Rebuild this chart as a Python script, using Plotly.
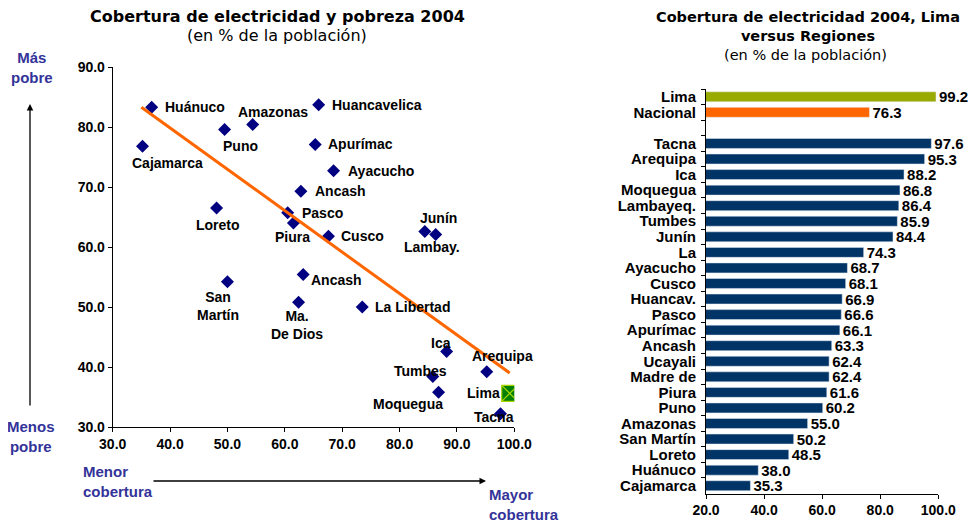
import plotly.graph_objects as go

# ---- left chart: coverage (x) vs poverty (y), 2004 ----
regions = ["Huánuco", "Cajamarca", "Puno", "Amazonas", "Huancavelica", "Apurímac",
           "Ayacucho", "Ancash", "Loreto", "Pasco", "Piura", "Cusco", "Junín",
           "Lambay.", "Ancash", "San<br>Martín", "Ma.<br>De Dios", "La Libertad",
           "Ica", "Arequipa", "Tumbes", "Moquegua", "Tacna"]
coverage = [36.8, 35.2, 49.5, 54.4, 65.9, 65.3, 68.5, 62.8, 48.1, 60.5, 61.5, 67.6,
            84.4, 86.3, 63.2, 50.0, 62.4, 73.5, 88.2, 95.2, 85.8, 86.8, 97.6]
poverty = [83.3, 76.8, 79.6, 80.4, 83.7, 77.1, 72.7, 69.3, 66.5, 65.7, 64.0, 61.8,
           62.6, 62.1, 55.4, 54.2, 50.8, 50.0, 42.6, 39.2, 38.4, 35.8, 32.2]
lima_coverage = [99.2]
lima_poverty = [35.6]
trend_x = [35.0, 99.2]
trend_y = [83.3, 39.0]

# label placement (anchor, x shift px, y shift px; positive y = up)
label_pos = [("left", 11, 0), ("center", 25, -17), ("center", 16, -17), ("center", 20, 13),
             ("left", 11, 0), ("left", 11, 0), ("left", 12, 0), ("left", 12, 0),
             ("center", 1, -17), ("left", 12, 0), ("center", -1, -14), ("left", 11, 0),
             ("center", 14, 13), ("center", -4, -13), ("left", 6, -5), ("center", -9, -24),
             ("center", -2, -23), ("left", 11, 0), ("center", -6, 8), ("center", 16, 16),
             ("center", -12, 6), ("center", -31, -12), ("center", -7, -3)]

# ---- right chart: coverage by region ----
bar_labels = ["Lima", "Nacional", " ", "Tacna", "Arequipa", "Ica", "Moquegua", "Lambayeq.",
              "Tumbes", "Junín", "La", "Ayacucho", "Cusco", "Huancav.", "Pasco", "Apurímac",
              "Ancash", "Ucayali", "Madre de", "Piura", "Puno", "Amazonas", "San Martín",
              "Loreto", "Huánuco", "Cajamarca"]
bar_values = [99.2, 76.3, None, 97.6, 95.3, 88.2, 86.8, 86.4, 85.9, 84.4, 74.3, 68.7, 68.1,
              66.9, 66.6, 66.1, 63.3, 62.4, 62.4, 61.6, 60.2, 55.0, 50.2, 48.5, 38.0, 35.3]
bar_colors = ["#99aa00", "#ff6600", "#003366"] + ["#003366"] * 23

# the page body has an 8px margin, so the figure starts at (8, 8) on screen
OFF = 8
W, H = 980 - OFF, 523 - OFF
def px(x):
    return (x - OFF) / W
def py(y):
    return 1 - (y - OFF) / H

LBL = "Arial, Liberation Sans, sans-serif"
TTL = "Verdana, DejaVu Sans, sans-serif"
BLUE = "#333399"

fig = go.Figure()

fig.add_trace(go.Scatter(
    x=coverage, y=poverty, mode="markers", xaxis="x", yaxis="y",
    marker=dict(symbol="diamond", size=10, color="#000080"),
    hoverinfo="skip"))
fig.add_trace(go.Scatter(
    x=lima_coverage, y=lima_poverty, mode="markers", xaxis="x", yaxis="y",
    marker=dict(symbol="square-x", size=16, color="#008000",
                line=dict(color="#a8d400", width=1.2)),
    hoverinfo="skip"))
fig.add_trace(go.Scatter(
    x=trend_x, y=trend_y, mode="lines", xaxis="x", yaxis="y",
    line=dict(color="#ff6600", width=3), hoverinfo="skip"))

fig.add_trace(go.Bar(
    y=bar_labels, x=bar_values, orientation="h", xaxis="x2", yaxis="y2",
    marker=dict(color=bar_colors), width=0.64,
    text=[("%.1f" % v) if v is not None else "" for v in bar_values],
    textposition="outside", cliponaxis=False, constraintext="none",
    textfont=dict(family=LBL, size=15, color="black", weight="bold"),
    hoverinfo="skip"))

annotations = []
for name, xv, yv, (anc, dx, dy) in zip(regions, coverage, poverty, label_pos):
    annotations.append(dict(
        x=xv, y=yv, xref="x", yref="y", text=name, showarrow=False,
        xanchor=anc, yanchor="middle", xshift=dx, yshift=dy,
        font=dict(family=LBL, size=14, color="black", weight="bold")))
annotations.append(dict(
    x=lima_coverage[0], y=lima_poverty[0], xref="x", yref="y", text="Lima",
    showarrow=False, xanchor="right", yanchor="middle", xshift=-8,
    font=dict(family=LBL, size=14, color="black", weight="bold")))

# titles
def title(text, x, y, size=16, bold=True, yanchor="middle"):
    f = dict(family=TTL, size=size, color="black")
    if bold:
        f["weight"] = "bold"
    return dict(x=px(x), y=py(y), xref="paper", yref="paper", showarrow=False,
                xanchor="center", yanchor=yanchor, borderpad=0, text=text, font=f)

annotations += [
    title("Cobertura de electricidad y pobreza 2004", 277, 16),
    title("(en % de la población)", 277, 35, bold=False),
    title("Cobertura de electricidad 2004, Lima<br>versus Regiones", 808, OFF, size=14.5,
          yanchor="top"),
    title("(en % de la población)", 805, 55, size=14.5, bold=False),
]

# blue axis hints and arrows
hint = dict(family=LBL, size=15, color=BLUE, weight="bold")
annotations += [
    dict(x=px(32), y=py(68), xref="paper", yref="paper", showarrow=False,
         xanchor="center", yanchor="middle", text="Más<br>pobre", font=hint),
    dict(x=px(31), y=py(436), xref="paper", yref="paper", showarrow=False,
         xanchor="center", yanchor="middle", text="Menos<br>pobre", font=hint),
    dict(x=px(81), y=py(481), xref="paper", yref="paper", showarrow=False,
         text="Menor<br>cobertura", align="left", xanchor="left", yanchor="middle", font=hint),
    dict(x=px(487), y=py(504), xref="paper", yref="paper", showarrow=False,
         text="Mayor<br>cobertura", align="left", xanchor="left", yanchor="middle", font=hint),
    dict(x=px(30), y=py(104), xref="paper", yref="paper", text="", showarrow=True,
         ax=0, ay=303, arrowhead=2, arrowsize=1, arrowwidth=1.3, arrowcolor="black"),
    dict(x=px(486), y=py(481), xref="paper", yref="paper", text="", showarrow=True,
         ax=-334, ay=0, arrowhead=2, arrowsize=1, arrowwidth=1.3, arrowcolor="black"),
]

tickfont = dict(family=LBL, size=14, color="black", weight="bold")
fig.update_layout(
    width=W, height=H, margin=dict(l=0, r=0, t=0, b=0, pad=0),
    paper_bgcolor="white", plot_bgcolor="white", showlegend=False,
    annotations=annotations,
    xaxis=dict(domain=[px(112.7), px(514.3)], range=[30, 100], dtick=10, tickformat=".1f",
               showgrid=False, zeroline=False, showline=True, linecolor="black", linewidth=1,
               ticks="outside", ticklen=4, tickcolor="black", tickfont=tickfont,
               anchor="y", automargin=False),
    yaxis=dict(domain=[py(427), py(67)], range=[30, 90], dtick=10, tickformat=".1f",
               showgrid=False, zeroline=False, showline=True, linecolor="black", linewidth=1,
               ticks="outside", ticklen=4, tickcolor="black", tickfont=tickfont,
               anchor="x", automargin=False),
    xaxis2=dict(domain=[px(706), px(938.3)], range=[20, 100], dtick=20, tickformat=".1f",
                showgrid=False, zeroline=False, showline=True, linecolor="black", linewidth=1,
                ticks="outside", ticklen=4, tickcolor="black", tickfont=tickfont,
                anchor="y2", automargin=False),
    yaxis2=dict(domain=[py(493.5), py(89)], type="category", categoryorder="array",
                categoryarray=bar_labels, range=[len(bar_labels) - 0.5, -0.5],
                tickmode="array", tickvals=bar_labels, ticktext=bar_labels,
                showgrid=False, zeroline=False, showline=True, linecolor="black", linewidth=1,
                ticks="outside", ticklen=4, tickcolor="black", tickson="boundaries",
                ticklabelstandoff=6,
                tickfont=dict(family=LBL, size=15, color="black", weight="bold"),
                anchor="x2", automargin=False),
)

fig.write_html("out.html")
